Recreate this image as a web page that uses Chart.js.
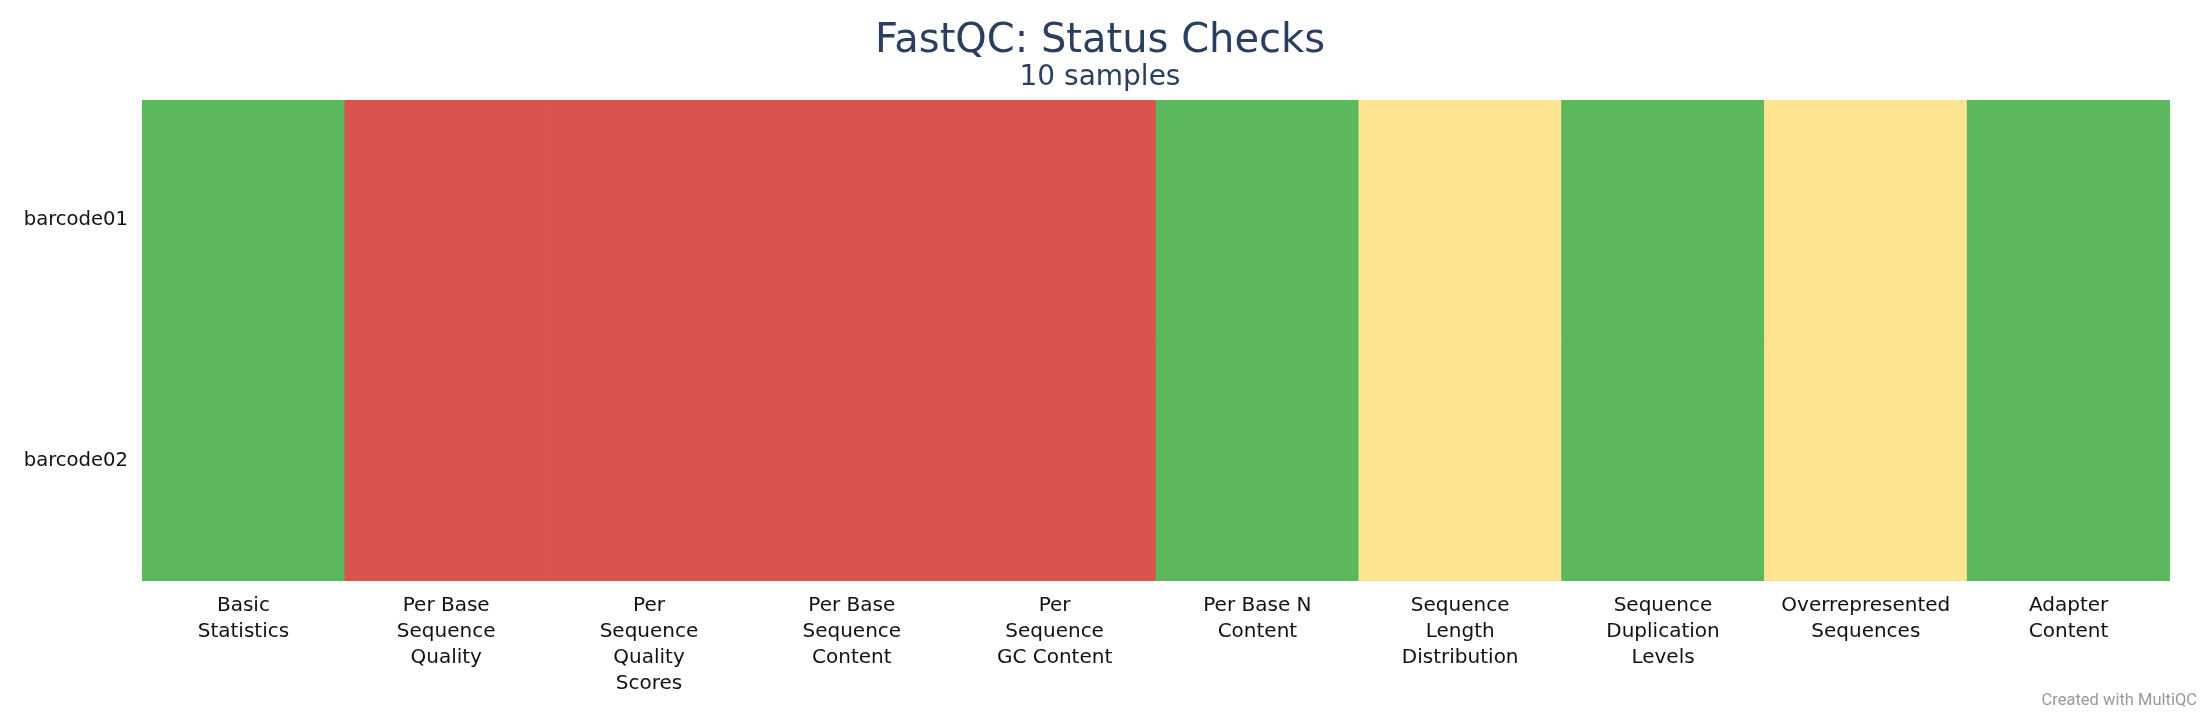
<!DOCTYPE html>
<html>
<head>
<meta charset="utf-8">
<script src="https://cdn.jsdelivr.net/npm/chart.js@4"></script>
<style>
  html, body { margin: 0; background: #fff; }
  #wrap { width: 2200px; height: 720px; }
</style>
</head>
<body>
<div id="wrap"><canvas id="statusChart"></canvas></div>
<script>
// FastQC module names (split into lines as on the axis)
const checks = [
    ['Basic', 'Statistics'],
    ['Per Base', 'Sequence', 'Quality'],
    ['Per', 'Sequence', 'Quality', 'Scores'],
    ['Per Base', 'Sequence', 'Content'],
    ['Per', 'Sequence', 'GC Content'],
    ['Per Base N', 'Content'],
    ['Sequence', 'Length', 'Distribution'],
    ['Sequence', 'Duplication', 'Levels'],
    ['Overrepresented', 'Sequences'],
    ['Adapter', 'Content']
];

const samples = ['barcode01', 'barcode02'];

const statusBarcode01 = ['pass', 'fail', 'fail', 'fail', 'fail', 'pass', 'warn', 'pass', 'warn', 'pass'];
const statusBarcode02 = ['pass', 'fail', 'fail', 'fail', 'fail', 'pass', 'warn', 'pass', 'warn', 'pass'];

const statusColours = {
    pass: '#5cb85c',
    warn: '#fee391',
    fail: '#d9534f'
};

const statusRows = [statusBarcode01, statusBarcode02];

// bottom row first so it stacks at the bottom
const datasets = samples.map((name, i) => ({
    label: name,
    data: checks.map(() => 1),
    backgroundColor: statusRows[i].map(s => statusColours[s]),
    borderWidth: 0,
    barPercentage: 1,
    categoryPercentage: 1
})).reverse();

const creditPlugin = {
    id: 'credit',
    afterDraw(chart) {
        const c = chart.ctx;
        c.save();
        c.font = '16.5px Roboto';
        c.fillStyle = '#999999';
        c.textAlign = 'right';
        c.textBaseline = 'middle';
        c.fillText('Created with MultiQC', 2197, 701);
        c.restore();
    }
};

const ctx = document.getElementById('statusChart');
const statusChart = new Chart(ctx, {
    type: 'bar',
    data: {
        labels: checks,
        datasets: datasets
    },
    plugins: [creditPlugin],
    options: {
        responsive: true,
        maintainAspectRatio: false,
        animation: false,
        layout: {
            padding: 0
        },
        scales: {
            x: {
                stacked: true,
                grid: { display: false, drawTicks: false },
                border: { display: false },
                ticks: {
                    maxRotation: 0,
                    autoSkip: false,
                    padding: 12,
                    color: '#111111',
                    font: { family: 'DejaVu Sans', size: 20, lineHeight: 1.3 }
                },
                afterFit(scale) { scale.height = 139; }
            },
            y: {
                stacked: true,
                min: 0,
                max: 2,
                grid: { display: false, drawTicks: false },
                border: { display: false },
                afterBuildTicks(scale) {
                    scale.ticks = [{ value: 0.5 }, { value: 1.5 }];
                },
                ticks: {
                    padding: 14,
                    color: '#111111',
                    font: { family: 'DejaVu Sans', size: 19.6 },
                    callback: (v) => v < 1 ? samples[1] : samples[0]
                },
                afterFit(scale) { scale.width = 142; }
            },
            // empty right-hand spacer so the title stays centred on the page
            yRight: {
                position: 'right',
                grid: { display: false, drawTicks: false },
                border: { display: false },
                ticks: { display: false },
                afterFit(scale) { scale.width = 30; }
            }
        },
        plugins: {
            legend: { display: false },
            tooltip: { enabled: false },
            title: {
                display: true,
                text: 'FastQC: Status Checks',
                color: '#2a3f5f',
                font: { family: 'DejaVu Sans', size: 40, weight: 'normal', lineHeight: 1.0 },
                padding: { top: 21.5, bottom: -1 }
            },
            subtitle: {
                display: true,
                text: '10 samples',
                color: '#2a3f5f',
                font: { family: 'DejaVu Sans', size: 28, weight: 'normal', lineHeight: 1.2 },
                padding: { top: 0, bottom: 6 }
            }
        }
    }
});
</script>
</body>
</html>
